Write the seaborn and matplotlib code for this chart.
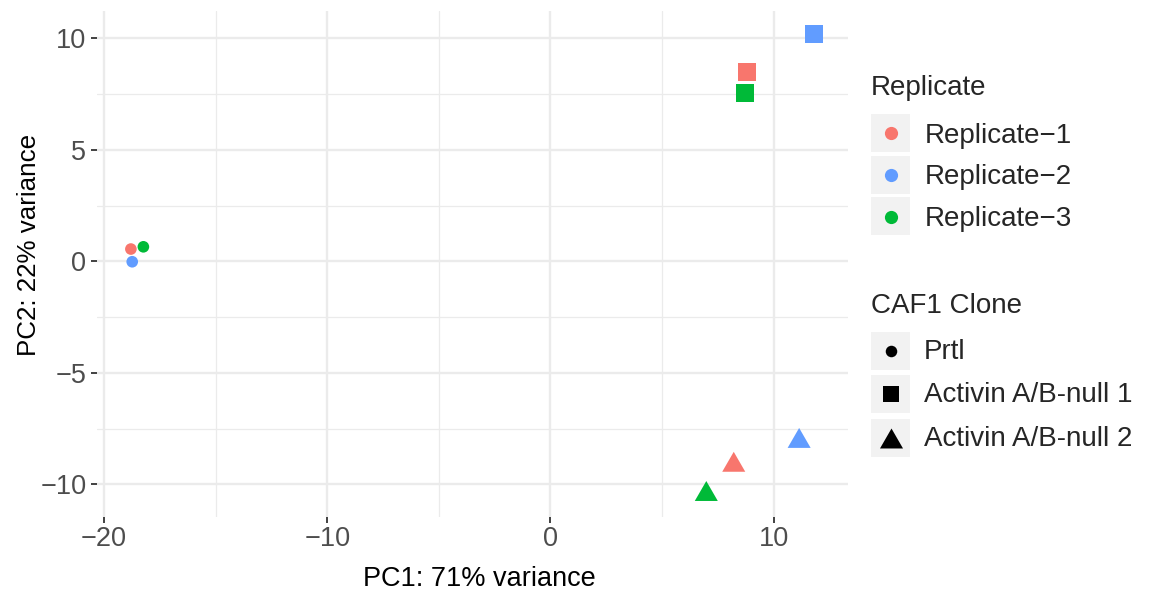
import matplotlib
matplotlib.use("Agg")
import matplotlib.pyplot as plt
from matplotlib.lines import Line2D
from matplotlib.patches import Rectangle
from matplotlib.ticker import FixedLocator
import numpy as np
import pandas as pd
import seaborn as sns

# PCA scores per sample
pc1 = [-18.80, -18.74, -18.24, 8.80, 11.80, 8.71, 8.21, 11.14, 6.98]
pc2 = [0.55, -0.02, 0.65, 8.50, 10.18, 7.54, -8.99, -7.92, -10.30]
replicate = ["Replicate\u22121", "Replicate\u22122", "Replicate\u22123"] * 3
clone = ["Prtl"] * 3 + ["Activin A/B-null 1"] * 3 + ["Activin A/B-null 2"] * 3

replicate_levels = ["Replicate\u22121", "Replicate\u22122", "Replicate\u22123"]
clone_levels = ["Prtl", "Activin A/B-null 1", "Activin A/B-null 2"]
replicate_colors = ["#F8766D", "#619CFF", "#00BA38"]

x_major = [-20, -10, 0, 10]
x_minor = [-15, -5, 5]
y_major = [-10, -5, 0, 5, 10]
y_minor = [-7.5, -2.5, 2.5, 7.5]

x_label = "PC1: 71% variance"
y_label = "PC2: 22% variance"

df = pd.DataFrame({"PC1": pc1, "PC2": pc2, "Replicate": replicate, "Clone": clone})

sns.set_theme(style="white")
plt.rcParams["font.family"] = ["Liberation Sans", "DejaVu Sans"]

W, H = 1150, 591
fig = plt.figure(figsize=(W / 100, H / 100), dpi=100)
fig.patch.set_facecolor("white")


def fx(px):
    return px / W


def fy(py):
    return 1 - py / H


left, right, top, bottom = 97, 848, 11, 517
ax = fig.add_axes([fx(left), fy(bottom), fx(right) - fx(left), fy(top) - fy(bottom)])
ax.set_facecolor("white")

# equilateral triangle, centred on its bounding box
tri = np.array([[0.0, 0.866], [-1.0, -0.866], [1.0, -0.866], [0.0, 0.866]])
clone_markers = {"Prtl": "o", "Activin A/B-null 1": "s", "Activin A/B-null 2": tri}
clone_sizes = {"Prtl": 70, "Activin A/B-null 1": 160, "Activin A/B-null 2": 275}
palette = dict(zip(replicate_levels, replicate_colors))

for c in clone_levels:
    sub = df[df["Clone"] == c]
    sns.scatterplot(data=sub, x="PC1", y="PC2", hue="Replicate", palette=palette,
                    hue_order=replicate_levels, marker=clone_markers[c],
                    s=clone_sizes[c], linewidth=0, legend=False, ax=ax, zorder=3)

ax.set_xlim(-20.318, 13.329)
ax.set_ylim(-11.466, 11.224)

ax.xaxis.set_major_locator(FixedLocator(x_major))
ax.xaxis.set_minor_locator(FixedLocator(x_minor))
ax.yaxis.set_major_locator(FixedLocator(y_major))
ax.yaxis.set_minor_locator(FixedLocator(y_minor))
ax.set_xticklabels([f"{v}".replace("-", "\u2212") for v in x_major])
ax.set_yticklabels([f"{v}".replace("-", "\u2212") for v in y_major])

ax.grid(which="major", color="#EBEBEB", linewidth=1.7, zorder=0)
ax.grid(which="minor", color="#EBEBEB", linewidth=0.9, zorder=0)
ax.set_axisbelow(True)
for s in ax.spines.values():
    s.set_visible(False)

ax.tick_params(which="major", length=4.2, width=1.3, color="#333333",
               labelsize=19.5, labelcolor="#4D4D4D", pad=2, bottom=True, left=True)
ax.tick_params(axis="y", pad=3.5)
ax.tick_params(which="minor", length=0, bottom=False, left=False)

ax.set_xlabel(x_label, fontsize=19.5, color="black")
ax.set_ylabel(y_label, fontsize=18.7, color="black")
ax.xaxis.set_label_coords((479 - left) / (right - left), (bottom - 566) / (bottom - top))
ax.yaxis.set_label_coords((40.5 - left) / (right - left), (bottom - 245) / (bottom - top))

# legends, drawn as keys with grey backgrounds
key_x0, key_x1 = 871, 910
label_x = 925
legend_fs = 20


def add_key(cy, marker, color, msize):
    fig.add_artist(Rectangle((fx(key_x0), fy(cy + 19)), fx(key_x1) - fx(key_x0),
                             (19 * 2) / H, transform=fig.transFigure,
                             facecolor="#F2F2F2", edgecolor="none"))
    fig.add_artist(Line2D([fx((key_x0 + key_x1) / 2)], [fy(cy)], marker=marker,
                          markersize=msize, markerfacecolor=color,
                          markeredgewidth=0, linestyle="none",
                          transform=fig.transFigure))


fig.text(fx(870.7), fy(95), "Replicate", fontsize=legend_fs, va="baseline", ha="left")
for cy, lab, col in zip([133.3, 175.0, 216.5], replicate_levels, replicate_colors):
    add_key(cy, "o", col, 9.5)
    fig.text(fx(label_x), fy(cy + 9.5), lab, fontsize=legend_fs, va="baseline", ha="left")

fig.text(fx(870.7), fy(313.3), "CAF1 Clone", fontsize=legend_fs, va="baseline", ha="left")
clone_key_sizes = [8.3, 11.8, 16.6]
for cy, lab, mk, ms in zip([350.5, 394.0, 437.5], clone_levels,
                           ["o", "s", tri], clone_key_sizes):
    add_key(cy, mk, "black", ms)
    fig.text(fx(label_x - 1), fy(cy + 8.5), lab, fontsize=legend_fs, va="baseline", ha="left")

fig.savefig("out.png", dpi=100, facecolor="white")
